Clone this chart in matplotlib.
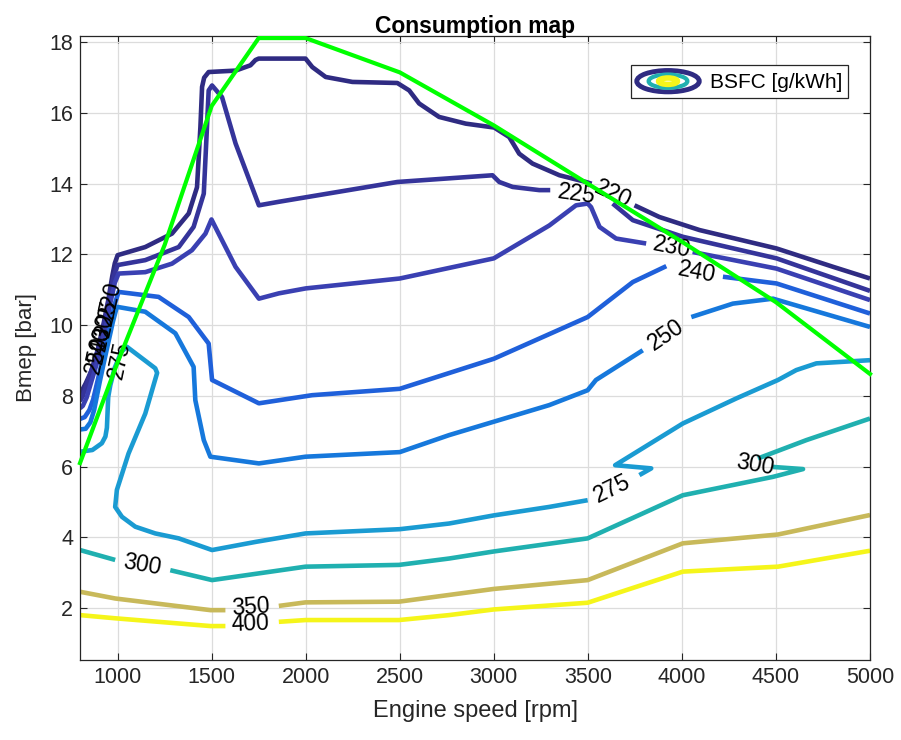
import matplotlib
matplotlib.use("Agg")
import matplotlib.pyplot as plt
from matplotlib.patches import Ellipse
from matplotlib.lines import Line2D
from matplotlib.legend_handler import HandlerBase

# BSFC iso-lines: each level is a list of segments (rpm, bmep)
BSFC_220 = [
    [(800, 8.05), (810, 8.15), (830, 8.35), (860, 8.7), (890, 9.2), (920, 9.9), (950, 10.7), (972, 11.4),
     (985, 11.75), (1000, 11.98), (1147, 12.21), (1289, 12.59), (1378, 13.16), (1422, 13.9), (1440, 15.6),
     (1449, 16.74), (1460, 17.0), (1484, 17.16), (1627, 17.2), (1706, 17.35), (1733, 17.5), (1750, 17.54),
     (1999, 17.54), (2035, 17.3), (2106, 17.02), (2248, 16.88), (2487, 16.85), (2550, 16.64), (2603, 16.27),
     (2709, 15.89), (2851, 15.70), (3002, 15.59), (3082, 15.32), (3135, 14.85), (3206, 14.57), (3349, 14.24),
     (3490, 14.05), (3520, 14.0)],
    [(3748, 13.39), (3880, 13.06), (4094, 12.69), (4503, 12.17), (4804, 11.65), (5000, 11.32)],
]
BSFC_225 = [
    [(800, 7.85), (810, 7.95), (825, 8.15), (850, 8.55), (875, 8.95), (905, 9.5), (935, 10.2), (960, 10.9),
     (980, 11.4), (1000, 11.7), (1147, 11.84), (1325, 12.21), (1404, 12.78), (1458, 13.72), (1475, 15.6),
     (1484, 16.64), (1502, 16.78), (1555, 16.45), (1627, 15.14), (1751, 13.39), (1857, 13.49), (2487, 14.05),
     (2993, 14.24), (3029, 14.05), (3100, 13.91), (3242, 13.82), (3300, 13.82)],
    [(3632, 13.44), (3739, 12.97), (4005, 12.5), (4503, 11.89), (5000, 10.97)],
]
BSFC_230 = [
    [(800, 7.65), (815, 7.72), (835, 7.95), (860, 8.4), (880, 8.75), (905, 9.2), (935, 9.9), (960, 10.6),
     (985, 11.2), (1005, 11.46), (1147, 11.5), (1289, 11.74), (1395, 12.12), (1467, 12.59), (1499, 12.99),
     (1537, 12.59), (1627, 11.65), (1751, 10.75), (1857, 10.9), (2000, 11.04), (2500, 11.32), (3000, 11.89),
     (3295, 12.82), (3437, 13.39), (3499, 13.44), (3517, 13.34), (3562, 12.78), (3650, 12.45), (3810, 12.31)],
    [(4057, 12.07), (4503, 11.6), (5000, 10.71)],
]
BSFC_240 = [
    [(800, 7.35), (825, 7.4), (850, 7.6), (870, 7.9), (890, 8.35), (910, 8.8), (935, 9.4), (960, 10.0),
     (985, 10.6), (1005, 10.94), (1218, 10.8), (1378, 10.23), (1484, 9.48), (1502, 8.45), (1751, 7.79),
     (2034, 8.02), (2500, 8.2), (3000, 9.05), (3499, 10.23), (3739, 11.22), (3917, 11.67)],
    [(4218, 11.37), (4503, 11.18), (5000, 10.33)],
]
BSFC_250 = [
    [(800, 7.05), (830, 7.07), (855, 7.25), (875, 7.6), (890, 8.0), (905, 8.4), (925, 8.9), (950, 9.5),
     (975, 10.1), (996, 10.52), (1147, 10.38), (1307, 9.77), (1404, 8.82), (1413, 7.88), (1458, 6.75),
     (1493, 6.28), (1751, 6.09), (1999, 6.28), (2500, 6.41), (2762, 6.89), (3000, 7.27), (3295, 7.74),
     (3499, 8.16), (3543, 8.45), (3792, 9.29)],
    [(4050, 10.23), (4271, 10.61), (4484, 10.75), (5000, 9.95)],
]
BSFC_275 = [
    [(800, 6.42), (866, 6.47), (916, 6.66), (935, 6.85), (943, 7.1), (950, 7.97), (961, 8.3), (985, 8.8),
     (1020, 9.25), (1049, 9.39), (1200, 8.78), (1210, 8.65), (1147, 7.5), (1058, 6.37), (996, 5.34),
     (987, 4.86), (1023, 4.58), (1094, 4.3), (1200, 4.11), (1325, 3.97), (1502, 3.64), (1733, 3.87),
     (1999, 4.11), (2500, 4.23), (2762, 4.39), (3000, 4.62), (3295, 4.86), (3499, 5.05)],
    [(3774, 5.76), (3837, 5.95), (3645, 6.04), (4005, 7.22), (4290, 7.93), (4511, 8.45), (4608, 8.73),
     (4715, 8.92), (5000, 9.01)],
]
BSFC_300 = [
    [(800, 3.64), (987, 3.36)],
    [(1280, 3.07), (1502, 2.79), (1999, 3.17), (2496, 3.22), (2762, 3.4), (3000, 3.6), (3499, 3.97),
     (4005, 5.19), (4484, 5.71), (4644, 5.93), (4484, 5.99)],
    [(4404, 6.23), (4662, 6.75), (5000, 7.36)],
]
BSFC_350 = [
    [(800, 2.46), (987, 2.27), (1494, 1.94), (1573, 1.94)],
    [(1857, 2.06), (1999, 2.16), (2496, 2.18), (2762, 2.37), (3000, 2.54), (3499, 2.79), (4005, 3.83),
     (4511, 4.08), (5000, 4.63)],
]
BSFC_400 = [
    [(800, 1.8), (987, 1.71), (1494, 1.49), (1573, 1.49)],
    [(1857, 1.61), (1999, 1.66), (2496, 1.66), (2762, 1.80), (3000, 1.96), (3499, 2.15), (4005, 3.03),
     (4511, 3.17), (5000, 3.62)],
]

LEVELS = [220, 225, 230, 240, 250, 275, 300, 350, 400]
LEVEL_LINES = [BSFC_220, BSFC_225, BSFC_230, BSFC_240, BSFC_250, BSFC_275, BSFC_300, BSFC_350, BSFC_400]

# inline labels: text, rpm, bmep, angle
LABEL_TEXT = ["220", "225", "230", "240", "250", "275",
              "225", "220", "230", "240", "250", "275", "300", "300", "350", "400"]
LABEL_RPM = [962, 940, 918, 902, 890, 1012, 3439, 3631, 3945, 4078, 3918, 3631, 1128, 4387, 1708, 1708]
LABEL_BMEP = [10.71, 10.2, 9.8, 9.43, 9.15, 9.0, 13.70, 13.72, 12.19, 11.51, 9.71, 5.36, 3.21, 6.04, 2.01, 1.55]
LABEL_ROT = [78, 78, 78, 78, 78, 78, -8, -25, -11, -11, 34, 26, -10, -10, 4, 2]

# full load line
MAX_RPM = [800, 1000, 1250, 1500, 1750, 2000, 2500, 3000, 3500, 4000, 4500, 5000]
MAX_BMEP = [6.1, 8.95, 12.27, 16.2, 18.12, 18.12, 17.15, 15.65, 14.0, 12.36, 10.65, 8.62]

COLORS = ["#2f2b82", "#35349a", "#3a40b2", "#1f60da", "#1678dc", "#1a9bd2", "#20b0b0", "#c8b95a", "#f5f51a"]

plt.rcParams['font.family'] = ['Liberation Sans', 'DejaVu Sans']


class RingsHandler(HandlerBase):
    def create_artists(self, legend, orig_handle, xdescent, ydescent, width, height, fontsize, trans):
        cx = 0.5 * width - xdescent
        cy = 0.5 * height - ydescent
        out = []
        for s, col, lw in [(1.0, COLORS[0], 3.5), (0.62, COLORS[6], 3.0), (0.3, COLORS[8], 4.0)]:
            e = Ellipse((cx, cy), width * s, height * s, fill=False, edgecolor=col, lw=lw, transform=trans)
            out.append(e)
        return out


fig = plt.figure(figsize=(9.01, 7.40), dpi=100)
ax = fig.add_axes([0.0888, 0.1081, 0.8768, 0.8433])

for lev, segs, col in zip(LEVELS, LEVEL_LINES, COLORS):
    for seg in segs:
        xs = [p[0] for p in seg]
        ys = [p[1] for p in seg]
        ax.plot(xs, ys, color=col, lw=3.3, solid_joinstyle='round', solid_capstyle='butt', zorder=2)

for t, x, y, r in zip(LABEL_TEXT, LABEL_RPM, LABEL_BMEP, LABEL_ROT):
    ax.text(x, y, t, rotation=r, ha='center', va='center', fontsize=16.5, color='black',
            rotation_mode='anchor', zorder=3)

ax.plot(MAX_RPM, MAX_BMEP, color='#00ff00', lw=3.0, zorder=4, clip_on=False)

ax.set_xlim(800, 5000)
ax.set_ylim(0.53, 18.18)
ax.set_xticks(range(1000, 5001, 500))
ax.set_yticks(range(2, 19, 2))
ax.grid(True, color='#dcdcdc', lw=0.9)
ax.set_axisbelow(True)
ax.tick_params(direction='in', top=True, right=True, labelsize=15.5, colors='#262626', length=5, pad=5)
for sp in ax.spines.values():
    sp.set_color('#262626')
    sp.set_linewidth(0.9)

ax.set_xlabel("Engine speed [rpm]", fontsize=17, color='#262626', labelpad=9)
ax.set_ylabel("Bmep [bar]", fontsize=16, color='#262626', labelpad=9)
ax.set_title("Consumption map", fontsize=16.5, fontweight='bold', pad=2)

proxy = Line2D([], [])
leg = ax.legend([proxy], ["BSFC [g/kWh]"], handler_map={Line2D: RingsHandler()}, loc='upper right',
                bbox_to_anchor=(0.972, 0.954), borderaxespad=0, fontsize=15, fancybox=False,
                edgecolor='#262626', handlelength=3.0, handleheight=1.2, handletextpad=0.5,
                borderpad=0.28, framealpha=1)
leg.get_frame().set_linewidth(0.9)

fig.savefig("out.png", dpi=100)
